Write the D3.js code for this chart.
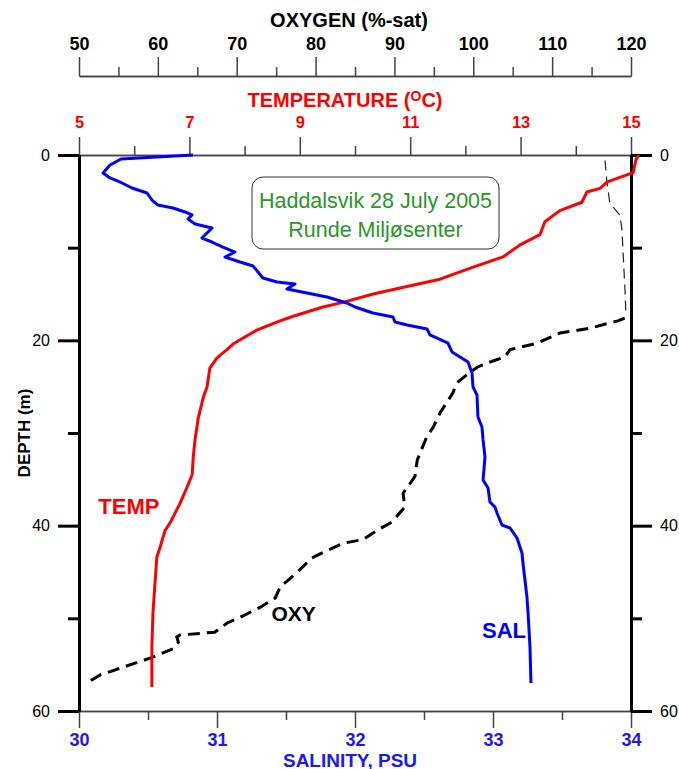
<!DOCTYPE html>
<html>
<head>
<meta charset="utf-8">
<script src="https://cdn.jsdelivr.net/npm/d3@7"></script>
<style>
  html, body { margin: 0; padding: 0; background: #fff; }
  svg { display: block; font-family: "Liberation Sans", Arial, sans-serif; }
</style>
</head>
<body>
<svg id="chart" width="679" height="769"></svg>
<script>
// ---------------- DATA ----------------
const tempDepth = [0, 0.5, 1.9, 2.9, 3.6, 4.0, 5.1, 6.0, 7.2, 8.6, 9.7, 11.0, 12.1, 13.4, 14.2, 15.0, 15.9, 16.4, 17.4, 17.9, 18.9, 20.4, 21.0, 21.9, 23.0, 25.0, 26.2, 28.4, 30.8, 32.6, 34.5, 35.8, 37.6, 39.7, 40.5, 42.3, 43.4, 45.9, 49.4, 53.1, 57.4];
const tempValue = [15.14, 15.09, 15.04, 14.57, 14.44, 14.20, 14.11, 13.71, 13.44, 13.35, 12.99, 12.68, 12.14, 11.54, 10.94, 10.33, 9.78, 9.42, 8.88, 8.64, 8.22, 7.79, 7.68, 7.50, 7.37, 7.32, 7.25, 7.16, 7.10, 7.07, 7.05, 6.96, 6.83, 6.65, 6.56, 6.47, 6.41, 6.38, 6.34, 6.32, 6.32];

const salDepth = [0, 0.43, 1.08, 1.94, 2.48, 3.02, 3.56, 4.10, 4.86, 5.40, 5.72, 6.15, 6.47, 6.91, 7.45, 7.88, 8.96, 9.39, 9.93, 10.47, 11.01, 11.55, 11.98, 13.27, 13.70, 13.92, 14.46, 14.89, 15.32, 15.97, 16.40, 17.05, 17.48, 18.02, 18.34, 18.78, 19.42, 20.29, 21.26, 22.34, 23.52, 25.03, 25.90, 28.27, 29.35, 30.75, 32.59, 35.07, 35.93, 37.44, 37.98, 38.63, 39.93, 40.25, 41.33, 42.95, 44.03, 47.70, 49.42, 53.09, 56.98];
const salValue = [30.826, 30.304, 30.225, 30.174, 30.225, 30.312, 30.384, 30.493, 30.529, 30.572, 30.681, 30.768, 30.819, 30.790, 30.841, 30.964, 30.891, 30.964, 31.043, 31.130, 31.058, 31.167, 31.261, 31.333, 31.435, 31.565, 31.507, 31.652, 31.797, 31.942, 32.000, 32.130, 32.275, 32.290, 32.377, 32.522, 32.543, 32.674, 32.703, 32.819, 32.848, 32.855, 32.884, 32.891, 32.920, 32.928, 32.942, 32.928, 32.964, 32.978, 33.014, 33.029, 33.065, 33.123, 33.174, 33.210, 33.217, 33.246, 33.254, 33.268, 33.275];

// oxygen, upper (thin dashed) part
const oxyUpperDepth = [0.6, 2.9, 5.1, 5.6, 6.5, 8.1, 10.3, 14.6, 17.3];
const oxyUpperValue = [116.7, 116.95, 117.3, 117.7, 118.6, 118.86, 118.98, 119.24, 119.36];
// oxygen, lower (thick dashed) part
const oxyDepth = [17.6, 17.9, 18.2, 18.7, 19.2, 20.3, 20.8, 21.0, 21.8, 22.4, 22.9, 23.7, 24.6, 25.7, 27.8, 29.4, 30.4, 32.9, 34.7, 36.5, 38.0, 39.6, 40.5, 41.5, 41.9, 42.9, 43.5, 45.1, 46.6, 47.8, 48.8, 49.9, 50.5, 51.5, 51.8, 52.0, 52.6, 53.3, 54.3, 56.1, 56.9];
const oxyValue = [119.2, 118.35, 116.95, 114.8, 111.0, 108.1, 105.7, 104.65, 104.0, 101.9, 100.5, 99.2, 97.9, 97.4, 95.8, 94.9, 94.1, 92.9, 92.6, 91.1, 91.3, 89.7, 87.8, 86.0, 83.5, 80.9, 79.5, 77.6, 75.5, 74.9, 73.0, 70.4, 68.8, 67.2, 62.8, 62.4, 62.6, 61.9, 59.0, 52.7, 51.1];

const oxyTicksMajor = [50, 60, 70, 80, 90, 100, 110, 120];
const oxyTicksMinor = [55, 65, 75, 85, 95, 105, 115];
const tempTicksMajor = [5, 7, 9, 11, 13, 15];
const tempTicksMinor = [6, 8, 10, 12, 14];
const salTicksMajor = [30, 31, 32, 33, 34];
const salTicksMinor = [30.5, 31.5, 32.5, 33.5];
const depthTicksMajor = [0, 20, 40, 60];
const depthTicksMinor = [10, 30, 50];

const boxLines = ["Haddalsvik 28 July 2005", "Runde Miljøsenter"];

// ---------------- LAYOUT ----------------
const L = 79, R = 631, T = 155, B = 711;
const svg = d3.select("#chart");

const y = d3.scaleLinear().domain([0, 60]).range([T, B]);
const xO = d3.scaleLinear().domain([50, 120]).range([L, R]);
const xT = d3.scaleLinear().domain([5, 15]).range([L, R]);
const xS = d3.scaleLinear().domain([30, 34]).range([L, R]);

const RED = "#ff0000", BLUE = "#0000ff", AXG = "#444", SALC = "#1a1aee";
const fmt = d3.format("d");
const FONT = "Liberation Sans, Arial, sans-serif";

function styleAxis(g, color, w) {
  g.attr("font-family", FONT);
  g.select(".domain").attr("stroke", color).attr("stroke-width", w);
  g.selectAll(".tick line").attr("stroke", color).attr("stroke-width", w);
}

// Oxygen axis (top, detached)
const OY = 76;
const gOmin = svg.append("g").attr("transform", `translate(0,${OY})`)
  .call(d3.axisTop(xO).tickValues(oxyTicksMinor).tickSize(9).tickSizeOuter(0).tickFormat(""));
styleAxis(gOmin, AXG, 1.5);
const gO = svg.append("g").attr("transform", `translate(0,${OY})`)
  .call(d3.axisTop(xO).tickValues(oxyTicksMajor).tickSize(19).tickSizeOuter(0).tickPadding(7).tickFormat(fmt));
styleAxis(gO, AXG, 1.5);
gO.selectAll("text").attr("font-size", 18).attr("font-weight", "bold").attr("fill", "#000");
svg.append("text").attr("x", 349).attr("y", 27).attr("text-anchor", "middle")
  .attr("font-size", 20).attr("font-weight", "bold").attr("fill", "#000").text("OXYGEN (%-sat)");

// Temperature axis (top of frame)
const gTmin = svg.append("g").attr("transform", `translate(0,${T})`)
  .call(d3.axisTop(xT).tickValues(tempTicksMinor).tickSize(9).tickSizeOuter(0).tickFormat(""));
styleAxis(gTmin, AXG, 1.5);
const gT = svg.append("g").attr("transform", `translate(0,${T})`)
  .call(d3.axisTop(xT).tickValues(tempTicksMajor).tickSize(18).tickSizeOuter(0).tickPadding(9).tickFormat(fmt));
styleAxis(gT, AXG, 1.5);
gT.selectAll("text").attr("font-size", 16.5).attr("font-weight", "bold").attr("fill", RED);
const tt = svg.append("text").attr("x", 345).attr("y", 107).attr("text-anchor", "middle")
  .attr("font-size", 20).attr("font-weight", "bold").attr("fill", RED);
tt.append("tspan").text("TEMPERATURE (");
tt.append("tspan").attr("font-size", 14).attr("dy", -6).text("O");
tt.append("tspan").attr("dy", 6).text("C)");

// Salinity axis (bottom)
const gSmin = svg.append("g").attr("transform", `translate(0,${B})`)
  .call(d3.axisBottom(xS).tickValues(salTicksMinor).tickSize(9).tickSizeOuter(0).tickFormat(""));
styleAxis(gSmin, AXG, 1.5);
const gS = svg.append("g").attr("transform", `translate(0,${B})`)
  .call(d3.axisBottom(xS).tickValues(salTicksMajor).tickSize(17).tickSizeOuter(0).tickPadding(5).tickFormat(fmt));
styleAxis(gS, AXG, 1.5);
gS.selectAll("text").attr("font-size", 18).attr("font-weight", "bold").attr("fill", SALC);
svg.append("text").attr("x", 350).attr("y", 766.5).attr("text-anchor", "middle")
  .attr("font-size", 19).attr("font-weight", "bold").attr("fill", SALC).text("SALINITY, PSU");

// Depth axes (left & right)
function depthAxis(side) {
  const isLeft = side === "left";
  const x0 = isLeft ? L : R;
  const ax = isLeft ? d3.axisLeft : d3.axisRight;
  const gm = svg.append("g").attr("transform", `translate(${x0},0)`)
    .call(ax(y).tickValues(depthTicksMinor).tickSize(11).tickSizeOuter(0).tickFormat(""));
  styleAxis(gm, "#000", 3);
  const g = svg.append("g").attr("transform", `translate(${x0},0)`)
    .call(ax(y).tickValues(depthTicksMajor).tickSize(21).tickSizeOuter(0).tickPadding(8).tickFormat(fmt));
  styleAxis(g, "#000", 3);
  g.selectAll("text").attr("font-size", 16).attr("fill", "#000");
}
depthAxis("left");
depthAxis("right");
svg.append("text").attr("transform", `translate(30,${(T + B) / 2}) rotate(-90)`)
  .attr("text-anchor", "middle").attr("font-size", 17).attr("font-weight", "bold").attr("fill", "#000")
  .text("DEPTH (m)");

// ---------------- LINES ----------------
const lineT = d3.line().x(i => xT(tempValue[i])).y(i => y(tempDepth[i]));
const lineS = d3.line().x(i => xS(salValue[i])).y(i => y(salDepth[i]));
const lineOU = d3.line().x(i => xO(oxyUpperValue[i])).y(i => y(oxyUpperDepth[i]));
const lineO = d3.line().x(i => xO(oxyValue[i])).y(i => y(oxyDepth[i]));

const plot = svg.append("g");
plot.append("path").attr("d", lineOU(d3.range(oxyUpperDepth.length)))
  .attr("fill", "none").attr("stroke", "#222").attr("stroke-width", 1.2).attr("stroke-dasharray", "10,6");
plot.append("path").attr("d", lineO(d3.range(oxyDepth.length)))
  .attr("fill", "none").attr("stroke", "#000").attr("stroke-width", 3).attr("stroke-dasharray", "12,7");
plot.append("path").attr("d", lineT(d3.range(tempDepth.length)))
  .attr("fill", "none").attr("stroke", RED).attr("stroke-width", 3).attr("stroke-linejoin", "round");
plot.append("path").attr("d", lineS(d3.range(salDepth.length)))
  .attr("fill", "none").attr("stroke", BLUE).attr("stroke-width", 3).attr("stroke-linejoin", "round");

// Series labels
svg.append("text").attr("x", xT(5.35)).attr("y", y(38.7)).attr("font-size", 22).attr("font-weight", "bold")
  .attr("fill", RED).text("TEMP");
svg.append("text").attr("x", xO(74.4)).attr("y", y(50.3)).attr("font-size", 21).attr("font-weight", "bold")
  .attr("fill", "#000").text("OXY");
svg.append("text").attr("x", xS(32.92)).attr("y", y(52.1)).attr("font-size", 22).attr("font-weight", "bold")
  .attr("fill", BLUE).text("SAL");

// Annotation box
svg.append("rect").attr("x", 252).attr("y", 177).attr("width", 247).attr("height", 72)
  .attr("rx", 11).attr("ry", 11).attr("fill", "#fff").attr("stroke", "#333").attr("stroke-width", 1);
boxLines.forEach((s, i) => {
  svg.append("text").attr("x", 375.5).attr("y", 207.5 + i * 29).attr("text-anchor", "middle")
    .attr("font-size", 21.5).attr("fill", "#2a962a").text(s);
});
</script>
</body>
</html>
